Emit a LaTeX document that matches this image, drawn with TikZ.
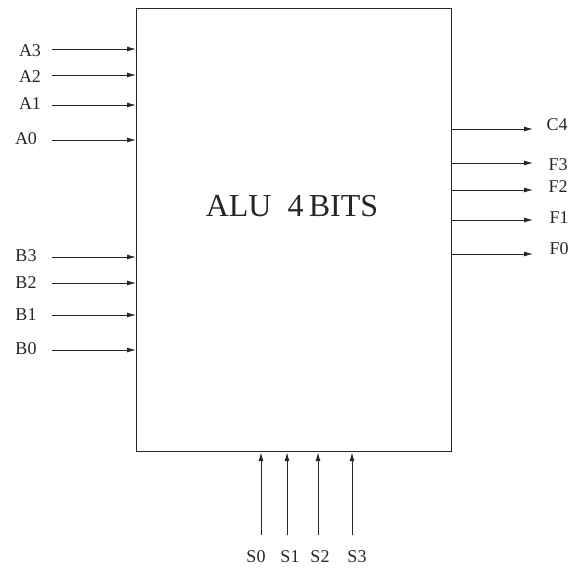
\documentclass[tikz,border=0pt]{standalone}
\usepackage{fontspec}
\setmainfont{Liberation Serif}
\usetikzlibrary{arrows.meta, positioning}
\tikzset{
    pinlabel/.style={font=\fontsize{18}{18}\selectfont, inner sep=0pt, text=black!85},
    arrow/.style={line width=0.9pt, draw=black!85, -{Latex[length=9pt,width=5pt]}}
}

\begin{document}
\begin{tikzpicture}[x=1pt, y=-1pt]
    \useasboundingbox (0,0) rectangle (573,568);
    \node (alu) [draw, line width=1.2pt, draw=black!85, anchor=north west, minimum width=315pt, minimum height=443pt, inner sep=0pt] at (136,8) {};
    \node (title) [anchor=base, inner sep=0pt, text=black!85] at (292,216) {\fontsize{32}{32}\selectfont ALU\ \ 4\,BITS};

    % A inputs
    \coordinate (a3) at (52,49);
    \coordinate (a2) at (52,75);
    \coordinate (a1) at (52,105);
    \coordinate (a0) at (52,140);
    \node (la3) [pinlabel] at (30,51) {A3};
    \node (la2) [pinlabel] at (30,77) {A2};
    \node (la1) [pinlabel] at (30,104) {A1};
    \node (la0) [pinlabel] at (26,139) {A0};

    % B inputs
    \coordinate (b3) at (52,257);
    \coordinate (b2) at (52,283);
    \coordinate (b1) at (52,315);
    \coordinate (b0) at (52,350);
    \node (lb3) [pinlabel] at (26,256) {B3};
    \node (lb2) [pinlabel] at (26,283) {B2};
    \node (lb1) [pinlabel] at (26,315) {B1};
    \node (lb0) [pinlabel] at (26,349) {B0};

    % outputs
    \coordinate (c4) at (533,129);
    \coordinate (f3) at (533,163);
    \coordinate (f2) at (533,190);
    \coordinate (f1) at (533,220);
    \coordinate (f0) at (533,254);
    \node (lc4) [pinlabel] at (557,125) {C4};
    \node (lf3) [pinlabel] at (558,165) {F3};
    \node (lf2) [pinlabel] at (558,187) {F2};
    \node (lf1) [pinlabel] at (559,218) {F1};
    \node (lf0) [pinlabel] at (559,249) {F0};

    % select lines
    \coordinate (s0) at (261,535);
    \coordinate (s1) at (287,535);
    \coordinate (s2) at (318,535);
    \coordinate (s3) at (352,535);
    \node (ls0) [pinlabel] at (256,557) {S0};
    \node (ls1) [pinlabel] at (290,557) {S1};
    \node (ls2) [pinlabel] at (320,557) {S2};
    \node (ls3) [pinlabel] at (357,557) {S3};

    \draw [arrow] (a3) -- (a3 -| alu.west);
    \draw [arrow] (a2) -- (a2 -| alu.west);
    \draw [arrow] (a1) -- (a1 -| alu.west);
    \draw [arrow] (a0) -- (a0 -| alu.west);
    \draw [arrow] (b3) -- (b3 -| alu.west);
    \draw [arrow] (b2) -- (b2 -| alu.west);
    \draw [arrow] (b1) -- (b1 -| alu.west);
    \draw [arrow] (b0) -- (b0 -| alu.west);
    \draw [arrow] (c4 -| alu.east) -- (c4);
    \draw [arrow] (f3 -| alu.east) -- (f3);
    \draw [arrow] (f2 -| alu.east) -- (f2);
    \draw [arrow] (f1 -| alu.east) -- (f1);
    \draw [arrow] (f0 -| alu.east) -- (f0);
    \draw [arrow] (s0) -- (s0 |- alu.south);
    \draw [arrow] (s1) -- (s1 |- alu.south);
    \draw [arrow] (s2) -- (s2 |- alu.south);
    \draw [arrow] (s3) -- (s3 |- alu.south);
\end{tikzpicture}
\end{document}
